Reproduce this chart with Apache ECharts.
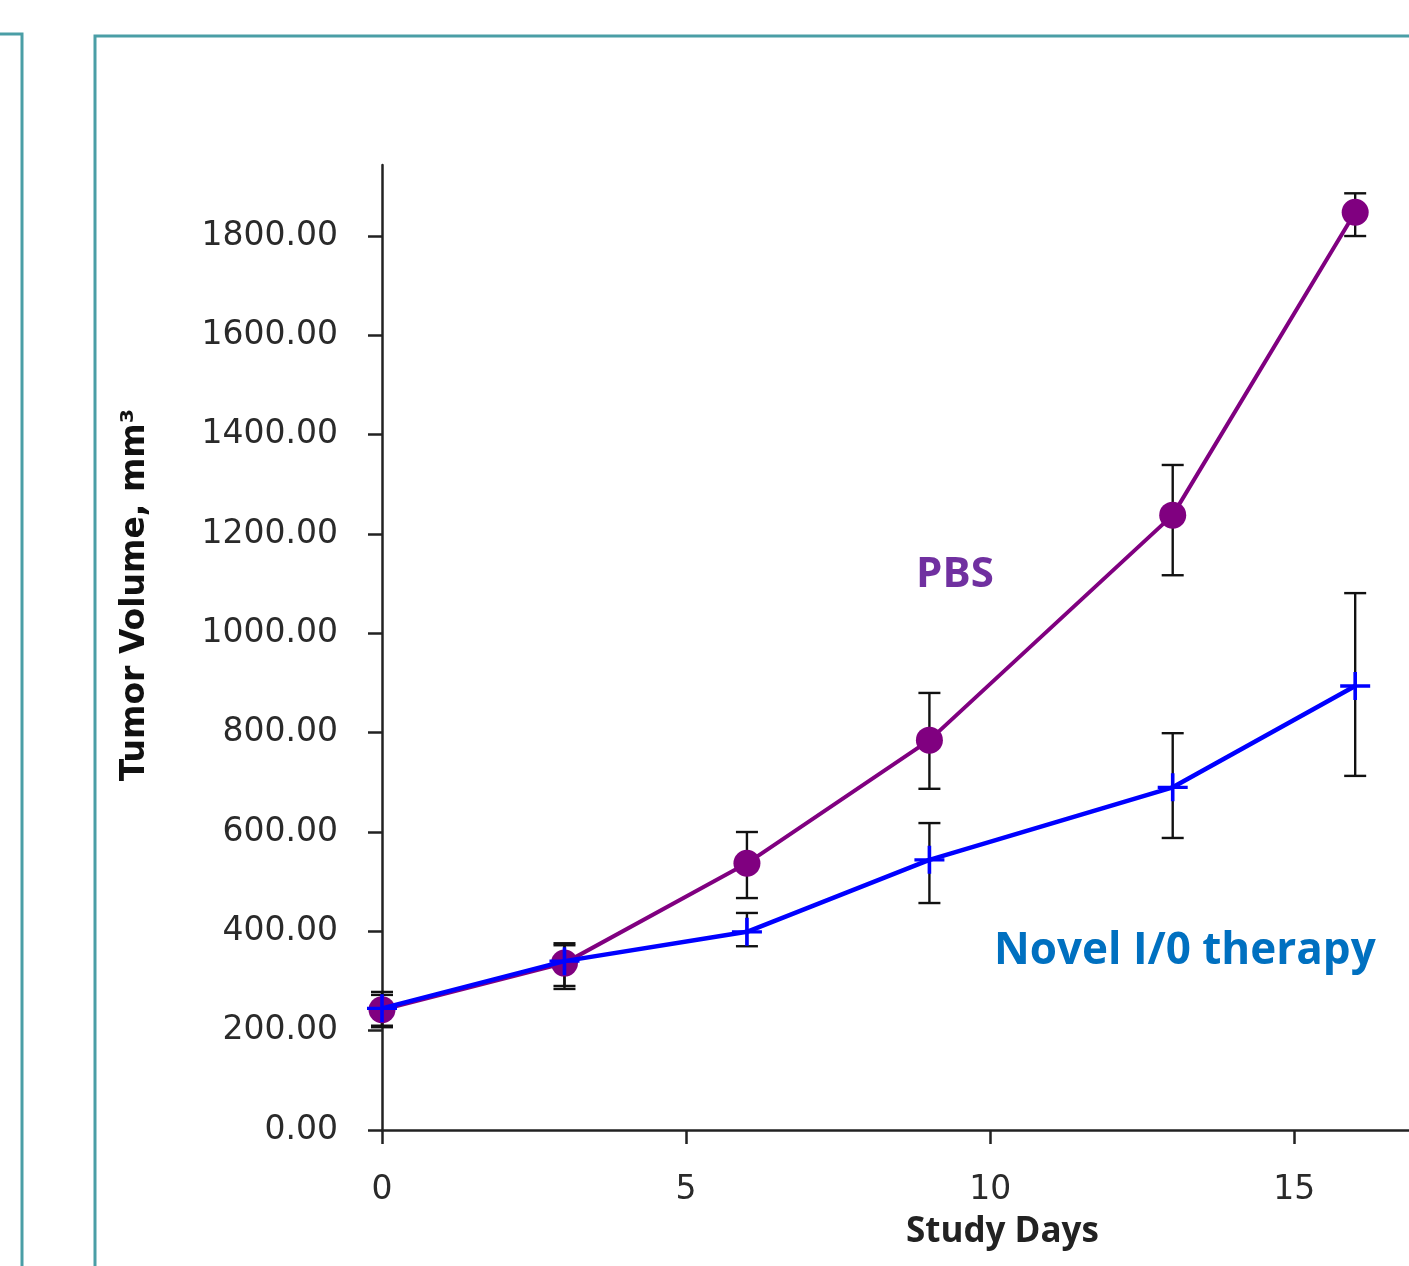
<!DOCTYPE html>
<html>
<head>
<meta charset="utf-8">
<script src="https://cdn.jsdelivr.net/npm/echarts@6/dist/echarts.min.js"></script>
<style>
  html, body { margin: 0; padding: 0; background: #fff; }
  #chart { width: 1409px; height: 1266px; }
</style>
</head>
<body>
<div id="chart"></div>
<script>
// study days and tumor volumes (mm3)
const days = [0, 3, 6, 9, 13, 16];
const pbsMean = [242, 336, 537, 785, 1238, 1848];
const pbsLow  = [210, 290, 467, 687, 1117, 1800];
const pbsHigh = [272, 372, 600, 880, 1339, 1886];
const ioMean  = [245, 340, 399, 544, 690, 894];
const ioLow   = [207, 284, 370, 457, 588, 713];
const ioHigh  = [278, 376, 437, 618, 799, 1081];

const yTicks = [0, 200, 400, 600, 800, 1000, 1200, 1400, 1600, 1800];
const xTicks = [0, 5, 10, 15];

// annotation anchors, in data units
const pbsLabelAt = [9.42, 1117];
const ioLabelAt = [13.2, 360];
const xNameAt = [10.2, 0];
const yNameAt = [0, 1077];

const chart = echarts.init(document.getElementById('chart'));

const pair = (xs, ys) => xs.map((x, i) => [x, ys[i]]);
const errData = days.map((d, i) => [d, pbsLow[i], pbsHigh[i]])
  .concat(days.map((d, i) => [d, ioLow[i], ioHigh[i]]));

// error bar with caps
const renderErr = (params, api) => {
  const lo = api.coord([api.value(0), api.value(1)]);
  const hi = api.coord([api.value(0), api.value(2)]);
  const w = 11;
  const st = { stroke: '#111', lineWidth: 2.4 };
  return {
    type: 'group',
    children: [
      { type: 'line', shape: { x1: lo[0], y1: lo[1], x2: hi[0], y2: hi[1] }, style: st },
      { type: 'line', shape: { x1: lo[0] - w, y1: lo[1], x2: lo[0] + w, y2: lo[1] }, style: st },
      { type: 'line', shape: { x1: hi[0] - w, y1: hi[1], x2: hi[0] + w, y2: hi[1] }, style: st }
    ]
  };
};

const plus = 'path://M-1.2,-10L1.2,-10L1.2,-1.2L10,-1.2L10,1.2L1.2,1.2L1.2,10L-1.2,10L-1.2,1.2L-10,1.2L-10,-1.2L-1.2,-1.2Z';

const option = {
  animation: false,
  backgroundColor: '#fff',
  grid: { left: 382, top: 165, width: 1034, height: 965, outerBoundsMode: 'none', containLabel: false },
  xAxis: {
    type: 'value', min: 0, max: 17, interval: 5,
    axisLine: { lineStyle: { color: '#222', width: 2.5 } },
    axisTick: { length: 14, lineStyle: { color: '#222', width: 2.5 }, customValues: xTicks },
    axisLabel: { margin: 44, fontFamily: 'DejaVu Sans', fontSize: 33, color: '#2a2a2a', customValues: xTicks },
    splitLine: { show: false }
  },
  yAxis: {
    type: 'value', min: 0, max: 1943, interval: 200,
    axisLine: { show: true, lineStyle: { color: '#222', width: 2.5 } },
    axisTick: { show: true, length: 14, lineStyle: { color: '#222', width: 2.5 }, customValues: yTicks },
    axisLabel: {
      margin: 44, fontFamily: 'DejaVu Sans', fontSize: 33, color: '#2a2a2a',
      customValues: yTicks, formatter: v => v.toFixed(2)
    },
    splitLine: { show: false }
  },
  series: [
    {
      type: 'custom', name: 'err', renderItem: renderErr, data: errData,
      encode: { x: 0, y: [1, 2] }, z: 1, silent: true
    },
    {
      type: 'line', name: 'PBS', data: pair(days, pbsMean), z: 3,
      symbol: 'circle', symbolSize: 27,
      lineStyle: { color: '#800080', width: 4 },
      itemStyle: { color: '#800080' }
    },
    {
      type: 'line', name: 'Novel I/0 therapy', data: pair(days, ioMean), z: 4,
      symbol: plus, symbolSize: [30, 28],
      lineStyle: { color: '#0000ff', width: 4.5 },
      itemStyle: { color: '#0000ff' }
    }
  ]
};

chart.setOption(option);

const px = p => chart.convertToPixel({ gridIndex: 0 }, p);
const pPbs = px(pbsLabelAt), pIo = px(ioLabelAt), pX = px(xNameAt), pY = px(yNameAt);

chart.setOption({
  graphic: [
    { type: 'rect', shape: { x: -20, y: 34, width: 42, height: 1300 },
      style: { fill: 'none', stroke: '#4a9ea6', lineWidth: 3 }, z: 10 },
    { type: 'rect', shape: { x: 95, y: 36, width: 1400, height: 1300 },
      style: { fill: 'none', stroke: '#4a9ea6', lineWidth: 3 }, z: 10 },
    { type: 'text', x: pPbs[0], y: pPbs[1],
      style: { text: 'PBS', fill: '#7030a0', font: 'bold 42px "Open Sans"', align: 'center', verticalAlign: 'middle' } },
    { type: 'text', x: pIo[0], y: pIo[1],
      style: { text: 'Novel I/0 therapy', fill: '#0070c0', font: 'bold 44px "Open Sans"', align: 'center', verticalAlign: 'middle' } },
    { type: 'text', x: pX[0], y: pX[1] + 102,
      style: { text: 'Study Days', fill: '#222', font: 'bold 35px "Open Sans"', align: 'center', verticalAlign: 'middle' } },
    { type: 'text', x: pY[0] - 247, y: pY[1], rotation: Math.PI / 2,
      style: { text: 'Tumor Volume, mm\u00b3', fill: '#111', font: 'bold 33px "DejaVu Sans"', align: 'center', verticalAlign: 'middle' } }
  ]
});
</script>
</body>
</html>
